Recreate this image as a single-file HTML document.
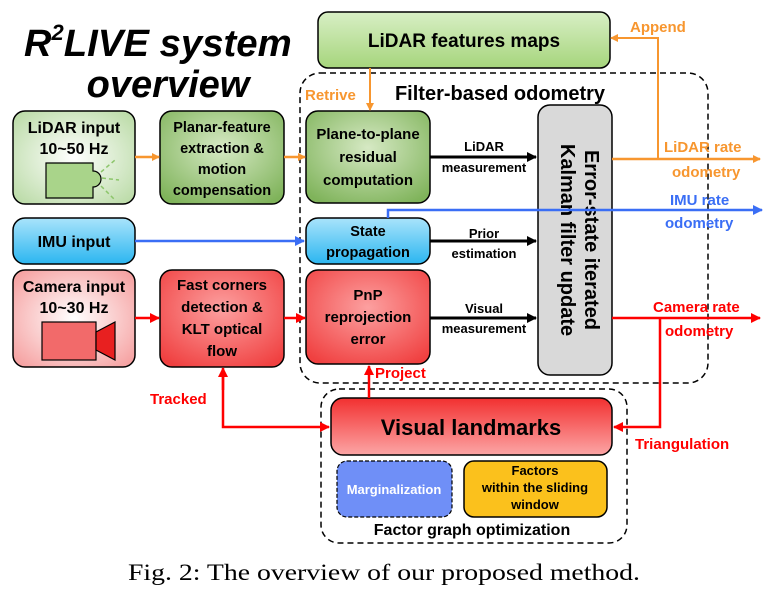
<!DOCTYPE html>
<html><head><meta charset="utf-8"><style>
body{margin:0;background:#fff}
svg text{font-family:"Liberation Sans",sans-serif;font-weight:bold}
</style></head><body>
<svg width="771" height="589" viewBox="0 0 771 589" xmlns="http://www.w3.org/2000/svg">
<defs>
<radialGradient id="gl" cx="50%" cy="50%" r="70%"><stop offset="0" stop-color="#fff"/><stop offset="1" stop-color="#b7d9a2"/></radialGradient>
<radialGradient id="gg" cx="50%" cy="40%" r="70%"><stop offset="0" stop-color="#d6e9c4"/><stop offset="1" stop-color="#7fb35a"/></radialGradient>
<linearGradient id="gmap" x1="0" y1="0" x2="0" y2="1"><stop offset="0" stop-color="#d8efc5"/><stop offset="1" stop-color="#a6d57c"/></linearGradient>
<linearGradient id="gb" x1="0" y1="0" x2="0" y2="1"><stop offset="0" stop-color="#a9e4fb"/><stop offset="1" stop-color="#2bb6f0"/></linearGradient>
<radialGradient id="gr" cx="50%" cy="50%" r="70%"><stop offset="0" stop-color="#fff"/><stop offset="1" stop-color="#f59a9a"/></radialGradient>
<radialGradient id="grr" cx="50%" cy="40%" r="70%"><stop offset="0" stop-color="#fca0a0"/><stop offset="1" stop-color="#f04040"/></radialGradient>
<linearGradient id="gv" x1="0" y1="0" x2="0" y2="1"><stop offset="0" stop-color="#f23030"/><stop offset="1" stop-color="#fca5a5"/></linearGradient>
<marker id="ao" markerWidth="8" markerHeight="8" refX="7" refY="4" orient="auto" markerUnits="userSpaceOnUse"><path d="M0,0L8,4L0,8z" fill="#f7962f"/></marker>
<marker id="ab" markerWidth="10" markerHeight="10" refX="9" refY="5" orient="auto" markerUnits="userSpaceOnUse"><path d="M0,0L10,5L0,10z" fill="#3a6ef5"/></marker>
<marker id="ar" markerWidth="10" markerHeight="10" refX="9" refY="5" orient="auto" markerUnits="userSpaceOnUse"><path d="M0,0L10,5L0,10z" fill="#f00"/></marker>
<marker id="ak" markerWidth="10" markerHeight="10" refX="9" refY="5" orient="auto" markerUnits="userSpaceOnUse"><path d="M0,0L10,5L0,10z" fill="#000"/></marker>
</defs>

<text x="24" y="56" font-size="38" font-style="italic">R<tspan font-size="22" dy="-16">2</tspan><tspan dy="16" textLength="228" lengthAdjust="spacingAndGlyphs">LIVE system</tspan></text>
<text x="168" y="97" font-size="38" font-style="italic" text-anchor="middle">overview</text>

<rect x="300" y="73" width="408" height="310" rx="20" fill="none" stroke="#000" stroke-width="1.5" stroke-dasharray="6,4"/>
<rect x="321" y="389" width="306" height="154" rx="18" fill="none" stroke="#000" stroke-width="1.5" stroke-dasharray="6,4"/>

<rect x="318" y="12" width="292" height="56" rx="10" fill="url(#gmap)" stroke="#000" stroke-width="1.5"/>
<text x="464" y="47" font-size="19" text-anchor="middle">LiDAR features maps</text>
<text x="500" y="100" font-size="20" text-anchor="middle">Filter-based odometry</text>

<rect x="13" y="111" width="122" height="93" rx="12" fill="url(#gl)" stroke="#000" stroke-width="1.5"/>
<text x="74" y="133" font-size="16" text-anchor="middle">LiDAR input</text>
<text x="74" y="154" font-size="16" text-anchor="middle">10~50 Hz</text>
<path d="M46,163H93V171A8,8 0 0 1 93,187V198H46Z" fill="#a9d48a" stroke="#000" stroke-width="1.2"/>
<g stroke="#8cc56a" stroke-width="1.5" stroke-dasharray="4,3"><line x1="102" y1="178" x2="119" y2="180"/><line x1="101" y1="172" x2="115" y2="160"/><line x1="101" y1="186" x2="115" y2="200"/></g>

<rect x="160" y="111" width="124" height="93" rx="12" fill="url(#gg)" stroke="#000" stroke-width="1.5"/>
<g font-size="14.5" text-anchor="middle"><text x="222" y="132">Planar-feature</text><text x="222" y="153">extraction &amp;</text><text x="222" y="174">motion</text><text x="222" y="195">compensation</text></g>

<rect x="306" y="111" width="124" height="92" rx="12" fill="url(#gg)" stroke="#000" stroke-width="1.5"/>
<g font-size="15" text-anchor="middle"><text x="368" y="139">Plane-to-plane</text><text x="368" y="162">residual</text><text x="368" y="185">computation</text></g>

<rect x="13" y="218" width="122" height="46" rx="12" fill="url(#gb)" stroke="#000" stroke-width="1.5"/>
<text x="74" y="247" font-size="16" text-anchor="middle">IMU input</text>
<rect x="306" y="218" width="124" height="46" rx="12" fill="url(#gb)" stroke="#000" stroke-width="1.5"/>
<g font-size="14.5" text-anchor="middle"><text x="368" y="236">State</text><text x="368" y="257">propagation</text></g>

<rect x="13" y="270" width="122" height="97" rx="12" fill="url(#gr)" stroke="#000" stroke-width="1.5"/>
<text x="74" y="292" font-size="16" text-anchor="middle">Camera input</text>
<text x="74" y="313" font-size="16" text-anchor="middle">10~30 Hz</text>
<rect x="42" y="322" width="54" height="38" fill="#f26a6a" stroke="#000" stroke-width="1.2"/>
<path d="M96,332L115,322V360L96,350Z" fill="#e82020" stroke="#000" stroke-width="1.2"/>

<rect x="160" y="270" width="124" height="97" rx="12" fill="url(#grr)" stroke="#000" stroke-width="1.5"/>
<g font-size="15" text-anchor="middle"><text x="222" y="290">Fast corners</text><text x="222" y="312">detection &amp;</text><text x="222" y="334">KLT optical</text><text x="222" y="356">flow</text></g>

<rect x="306" y="270" width="124" height="94" rx="12" fill="url(#grr)" stroke="#000" stroke-width="1.5"/>
<g font-size="15" text-anchor="middle"><text x="368" y="300">PnP</text><text x="368" y="322">reprojection</text><text x="368" y="344">error</text></g>

<rect x="538" y="105" width="74" height="270" rx="12" fill="#d9d9d9" stroke="#000" stroke-width="1.5"/>
<text transform="translate(585,240) rotate(90)" font-size="20" text-anchor="middle">Error-state iterated</text>
<text transform="translate(561,240) rotate(90)" font-size="20" text-anchor="middle">Kalman filter update</text>

<rect x="331" y="398" width="281" height="57" rx="12" fill="url(#gv)" stroke="#000" stroke-width="1.5"/>
<text x="471" y="435" font-size="22" text-anchor="middle">Visual landmarks</text>
<rect x="337" y="461" width="115" height="56" rx="10" fill="#6f8ff7" stroke="#000" stroke-width="1.2" stroke-dasharray="4,2"/>
<text x="394" y="494" font-size="13" fill="#fff" text-anchor="middle">Marginalization</text>
<rect x="464" y="461" width="143" height="56" rx="10" fill="#fbc11c" stroke="#000" stroke-width="1.5"/>
<g font-size="13" text-anchor="middle"><text x="535" y="475">Factors</text><text x="535" y="492">within the sliding</text><text x="535" y="509">window</text></g>
<text x="472" y="535" font-size="16" text-anchor="middle">Factor graph optimization</text>

<g stroke-width="2.5" fill="none">
<line x1="135" y1="157" x2="159" y2="157" stroke="#f7962f" marker-end="url(#ao)"/>
<line x1="284" y1="157" x2="305" y2="157" stroke="#f7962f" marker-end="url(#ao)"/>
<line x1="370" y1="68" x2="370" y2="110" stroke="#f7962f" stroke-width="2" marker-end="url(#ao)"/>
<line x1="612" y1="159" x2="760" y2="159" stroke="#f7962f" marker-end="url(#ao)"/>
<polyline points="658,159 658,38 611,38" stroke="#f7962f" stroke-width="2" marker-end="url(#ao)"/>
<line x1="135" y1="241" x2="304" y2="241" stroke="#3a6ef5" marker-end="url(#ab)"/>
<polyline points="388,218 388,210 762,210" stroke="#3a6ef5" marker-end="url(#ab)"/>
<line x1="135" y1="318" x2="159" y2="318" stroke="#f00" marker-end="url(#ar)"/>
<line x1="284" y1="318" x2="305" y2="318" stroke="#f00" marker-end="url(#ar)"/>
<line x1="612" y1="318" x2="760" y2="318" stroke="#f00" marker-end="url(#ar)"/>
<polyline points="660,318 660,427 614,427" stroke="#f00" marker-end="url(#ar)"/>
<polyline points="223,370 223,427 329,427" stroke="#f00" marker-end="url(#ar)"/>
<line x1="223" y1="390" x2="223" y2="368" stroke="#f00" marker-end="url(#ar)"/>
<line x1="369" y1="398" x2="369" y2="366" stroke="#f00" marker-end="url(#ar)"/>
<line x1="430" y1="157" x2="536" y2="157" stroke="#000" stroke-width="3" marker-end="url(#ak)"/>
<line x1="430" y1="241" x2="536" y2="241" stroke="#000" stroke-width="3" marker-end="url(#ak)"/>
<line x1="430" y1="318" x2="536" y2="318" stroke="#000" stroke-width="3" marker-end="url(#ak)"/>
</g>

<g font-size="13" text-anchor="middle"><text x="484" y="151">LiDAR</text><text x="484" y="172">measurement</text><text x="484" y="238">Prior</text><text x="484" y="258">estimation</text><text x="484" y="313">Visual</text><text x="484" y="333">measurement</text></g>

<g font-size="15" fill="#f7962f"><text x="630" y="32">Append</text><text x="305" y="100">Retrive</text><text x="664" y="152">LiDAR rate</text><text x="672" y="177">odometry</text></g>
<g font-size="15" fill="#3a6ef5"><text x="670" y="205">IMU rate</text><text x="665" y="228">odometry</text></g>
<g font-size="15" fill="#f00"><text x="653" y="312">Camera rate</text><text x="665" y="336">odometry</text><text x="635" y="449">Triangulation</text><text x="150" y="404">Tracked</text><text x="375" y="378">Project</text></g>

<text x="128" y="580" font-size="23" textLength="512" lengthAdjust="spacingAndGlyphs" style="font-family:'Liberation Serif',serif;font-weight:normal">Fig. 2: The overview of our proposed method.</text>
</svg>
</body></html>
